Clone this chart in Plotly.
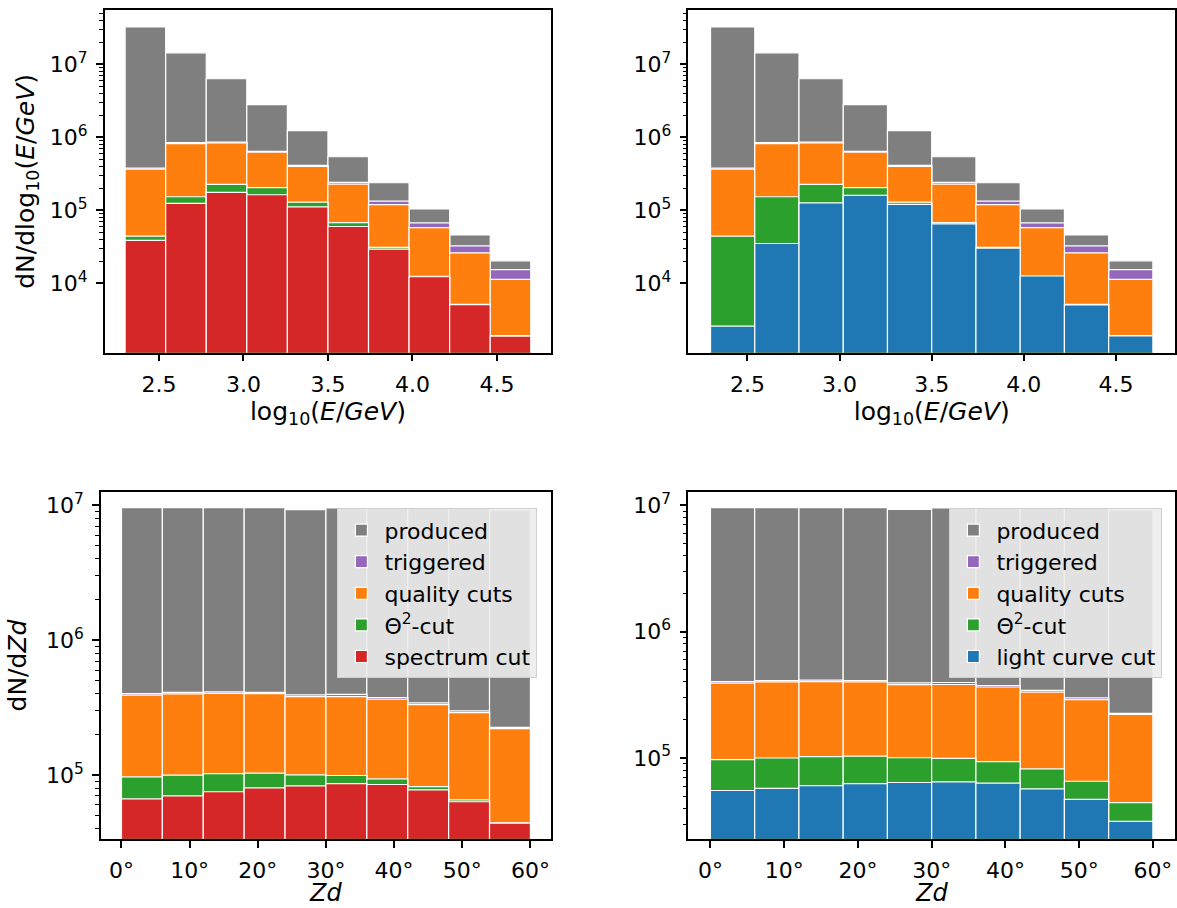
import plotly.graph_objects as go

# ---- energy binning (log10(E/GeV)) ----
e_centers = [2.42, 2.66, 2.90, 3.14, 3.38, 3.62, 3.86, 4.10, 4.34, 4.58]
e_width = 0.24

produced_E = [3.28e7, 1.445e7, 6.37e6, 2.81e6, 1.24e6, 5.41e5, 2.38e5, 1.04e5, 4.58e4, 2.02e4]
triggered_E = [3.78e5, 8.49e5, 8.57e5, 6.40e5, 4.11e5, 2.41e5, 1.33e5, 6.70e4, 3.24e4, 1.53e4]
quality_E = [3.66e5, 8.20e5, 8.40e5, 6.25e5, 3.99e5, 2.28e5, 1.19e5, 5.78e4, 2.60e4, 1.12e4]
theta2_E = [4.40e4, 1.53e5, 2.26e5, 2.04e5, 1.29e5, 6.76e4, 3.08e4, 1.24e4, 5.10e3, 1.90e3]
spectrum_E = [3.84e4, 1.24e5, 1.76e5, 1.63e5, 1.11e5, 5.97e4, 2.92e4, 1.22e4, 5.05e3, 1.87e3]
lightcurve_E = [2.56e3, 3.49e4, 1.26e5, 1.60e5, 1.20e5, 6.50e4, 3.01e4, 1.25e4, 5.00e3, 1.88e3]

# ---- zenith binning (degrees) ----
zd_centers = [3, 9, 15, 21, 27, 33, 39, 45, 51, 57]
zd_width = 6

produced_Zd = [9.6e6, 9.6e6, 9.6e6, 9.6e6, 9.3e6, 9.55e6, 9.55e6, 9.55e6, 9.55e6, 9.2e6]
triggered_Zd = [4.02e5, 4.10e5, 4.14e5, 4.11e5, 3.93e5, 3.96e5, 3.75e5, 3.43e5, 2.99e5, 2.26e5]
quality_Zd = [3.92e5, 4.00e5, 4.03e5, 4.01e5, 3.81e5, 3.82e5, 3.65e5, 3.33e5, 2.90e5, 2.21e5]
theta2_Zd = [9.70e4, 1.00e5, 1.026e5, 1.035e5, 1.005e5, 9.93e4, 9.37e4, 8.20e4, 6.55e4, 4.43e4]
spectrum_Zd = [6.67e4, 7.02e4, 7.52e4, 8.04e4, 8.32e4, 8.65e4, 8.51e4, 7.78e4, 6.34e4, 4.41e4]
lightcurve_Zd = [5.53e4, 5.74e4, 6.05e4, 6.28e4, 6.40e4, 6.47e4, 6.32e4, 5.70e4, 4.70e4, 3.15e4]

labels = ["produced", "triggered", "quality cuts", "\u0398<sup>2</sup>-cut"]
label_spectrum = "spectrum cut"
label_lightcurve = "light curve cut"

C_PRODUCED = "#7f7f7f"
C_TRIGGERED = "#9467bd"
C_QUALITY = "#ff7f0e"
C_THETA2 = "#2ca02c"
C_SPECTRUM = "#d62728"
C_LIGHTCURVE = "#1f77b4"

W, H = 1177, 908
FONT = "DejaVu Sans"
FS = 22          # tick labels and legend
FS_TITLE = 25    # axis titles
FS_ZD = 24       # Zd titles, squeezed between tick labels and page edge

fig = go.Figure()


def add_panel(idx, centers, width, series, legend_name):
    suffix = "" if idx == 1 else str(idx)
    for name, vals, color in series:
        fig.add_trace(go.Bar(
            x=centers, y=vals, width=width, name=name,
            marker=dict(color=color, line=dict(color="white", width=1.2)),
            xaxis="x" + suffix, yaxis="y" + suffix,
            showlegend=legend_name is not None,
            legend=legend_name if legend_name else "legend",
            legendgroup=f"p{idx}-{name}",
        ))


base_E = [(labels[0], produced_E, C_PRODUCED), (labels[1], triggered_E, C_TRIGGERED),
          (labels[2], quality_E, C_QUALITY), (labels[3], theta2_E, C_THETA2)]
base_Zd = [(labels[0], produced_Zd, C_PRODUCED), (labels[1], triggered_Zd, C_TRIGGERED),
           (labels[2], quality_Zd, C_QUALITY), (labels[3], theta2_Zd, C_THETA2)]

add_panel(1, e_centers, e_width, base_E + [(label_spectrum, spectrum_E, C_SPECTRUM)], None)
add_panel(2, e_centers, e_width, base_E + [(label_lightcurve, lightcurve_E, C_LIGHTCURVE)], None)
add_panel(3, zd_centers, zd_width, base_Zd + [(label_spectrum, spectrum_Zd, C_SPECTRUM)], "legend")
add_panel(4, zd_centers, zd_width, base_Zd + [(label_lightcurve, lightcurve_Zd, C_LIGHTCURVE)], "legend2")


def sup(n):
    return f"10<sup>{n}</sup>"


def log_ticks(lo, hi):
    major, minor = [], []
    for e in range(lo, hi + 1):
        major.append(10 ** e)
        for k in range(2, 10):
            minor.append(k * 10 ** e)
    return major, minor


common_axis = dict(
    showline=True, linecolor="black", linewidth=1.6, mirror=True,
    ticks="outside", ticklen=7, tickwidth=1.6, tickcolor="black",
    showgrid=False, zeroline=False,
    tickfont=dict(family=FONT, size=FS, color="black"),
    ticklabelstandoff=4,
)


def yaxis_log(domain, anchor, rng, decades, title=None, standoff=10):
    major, minor = log_ticks(*decades)
    ax = dict(common_axis)
    ax.update(
        domain=domain, anchor=anchor, type="log", range=rng,
        tickmode="array", tickvals=major, ticktext=[sup(e) for e in range(decades[0], decades[1] + 1)],
        minor=dict(tickmode="array", tickvals=minor, ticks="outside", ticklen=4,
                   tickwidth=1.2, tickcolor="black", showgrid=False),
    )
    if title:
        ax["title"] = dict(text=title, font=dict(family=FONT, size=FS_TITLE), standoff=standoff)
    return ax


def px_x(a, b):
    return [a / W, min(b / W, 1.0)]


def px_y(top, bottom):
    return [1 - bottom / H, 1 - top / H]


e_ticks = [2.5, 3.0, 3.5, 4.0, 4.5]
e_ticktext = ["2.5", "3.0", "3.5", "4.0", "4.5"]
zd_ticks = [0, 10, 20, 30, 40, 50, 60]
zd_ticktext = [f"{v}\u00b0" for v in zd_ticks]

e_title = "log<sub>10</sub>(<i>E</i>/<i>GeV</i>)"
zd_title = "<i>Zd</i>"


def xaxis(domain, anchor, rng, tv, tt, title=None, standoff=3):
    ax = dict(common_axis)
    ax.update(domain=domain, anchor=anchor, range=rng, tickmode="array",
              tickvals=tv, ticktext=tt)
    if title:
        ax["title"] = dict(text=title, font=dict(family=FONT, size=FS_TITLE), standoff=standoff)
    return ax


top_y = px_y(7.3, 350.7)
bot_y = px_y(491.0, 838.5)

legend_style = dict(
    bgcolor="rgba(236,236,236,0.9)", bordercolor="#d0d0d0", borderwidth=1,
    font=dict(family=FONT, size=FS, color="black"),
    xanchor="left", yanchor="top", tracegroupgap=0, itemwidth=36,
)

# Zd titles sit just below the bottom tick labels, centred under 30°
zd_title_annotations = [
    dict(text=zd_title, xref=f"x{ax}", x=30, yref="paper", y=0,
         xanchor="center", yanchor="bottom", showarrow=False, borderpad=0,
         font=dict(family=FONT, size=FS_ZD, color="black"))
    for ax in (3, 4)
]

fig.update_layout(
    width=W, height=H,
    margin=dict(l=0, r=0, t=0, b=0),
    paper_bgcolor="white", plot_bgcolor="white",
    barmode="overlay",
    font=dict(family=FONT, size=FS, color="black"),
    xaxis=xaxis(px_x(105.0, 552.0), "y", [2.18, 4.82], e_ticks, e_ticktext, e_title),
    yaxis=yaxis_log(top_y, "x", [3.046, 7.744], (4, 7),
                    "dN/dlog<sub>10</sub>(<i>E</i>/<i>GeV</i>)", standoff=8),
    xaxis2=xaxis(px_x(689.6, 1177.0), "y2", [2.18, 4.82], e_ticks, e_ticktext, e_title),
    yaxis2=yaxis_log(top_y, "x2", [3.046, 7.744], (4, 7)),
    xaxis3=xaxis(px_x(101.2, 551.8), "y3", [-3, 63], zd_ticks, zd_ticktext),
    yaxis3=yaxis_log(bot_y, "x3", [4.528, 7.096], (4, 7), "dN/d<i>Zd</i>", standoff=12),
    xaxis4=xaxis(px_x(689.5, 1177.0), "y4", [-3, 63], zd_ticks, zd_ticktext),
    yaxis4=yaxis_log(bot_y, "x4", [4.361, 7.103], (4, 7)),
    legend=dict(legend_style, x=338 / W, y=1 - 507 / H),
    legend2=dict(legend_style, x=951 / W, y=1 - 507 / H),
    annotations=zd_title_annotations,
)

fig.write_html("out.html")
